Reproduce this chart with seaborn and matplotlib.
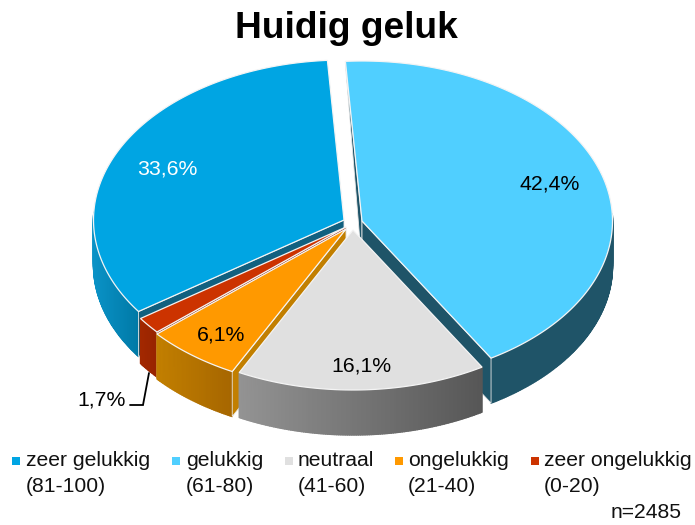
import numpy as np
import matplotlib
matplotlib.use("Agg")
import matplotlib.pyplot as plt
from matplotlib.patches import Polygon
from matplotlib.collections import PolyCollection
from matplotlib.colors import to_rgb
import pandas as pd
import seaborn as sns

# ---- data ----
categories = ["zeer gelukkig", "gelukkig", "neutraal", "ongelukkig", "zeer ongelukkig"]
ranges = ["(81-100)", "(61-80)", "(41-60)", "(21-40)", "(0-20)"]
values = [33.6, 42.4, 16.1, 6.1, 1.7]
value_labels = ["33,6%", "42,4%", "16,1%", "6,1%", "1,7%"]
title = "Huidig geluk"
note = "n=2485"

# ---- style ----
top_colors = ["#00A5E3", "#50CFFF", "#E0E0E0", "#FF9900", "#CC3300"]
side_from = ["#0A92C6", "#1F5468", "#939393", "#C27F00", "#A32800"]
side_to = ["#0079A6", "#1F5468", "#565656", "#A66600", "#962300"]
cut_colors = ["#12607F", "#1F5468", "#6E6E6E", "#C27F00", "#962300"]
centers = [(344, 220), (362, 221), (353, 230), (346, 229), (346, 227)]
label_pos = [(167, 169), (550, 184), (361, 366), (221, 335), (102, 400)]
label_cols = ["white", "black", "black", "black", "black"]
legend_marker_x = [16, 176, 289, 399, 535]
legend_text_x = [26, 186, 298, 408, 544]
RX, RY, DEPTH, START = 250.5, 160.0, 45.0, -3.8

sns.set_theme(style="white", rc={"font.family": ["Liberation Sans", "DejaVu Sans"]})
palette = sns.color_palette(top_colors)

fig = plt.figure(figsize=(6.95, 5.25), dpi=100)
ax = fig.add_axes([0, 0, 1, 1])
ax.set_xlim(0, 695)
ax.set_ylim(525, 0)
ax.axis("off")


def depth(theta):
    c = np.cos(np.radians(theta))
    return DEPTH - (DEPTH - 3) * np.clip(c, 0, 1)


def rim(cx, cy, theta):
    t = np.radians(theta)
    return np.column_stack([cx + RX * np.sin(t), cy - RY * np.cos(t)])


def draw_slice(i, a0, a1, z):
    cx, cy = centers[i]
    ts = np.linspace(a0, a1, max(int(a1 - a0) * 2, 12))
    top = rim(cx, cy, ts)
    # rim side, split in strips to follow the shading from left to right
    lo, hi = np.array(to_rgb(side_from[i])), np.array(to_rgb(side_to[i]))
    front = [t for t in ts if np.cos(np.radians(t)) <= 0.05]
    if len(front) > 1:
        fr = np.array(front)
        p = rim(cx, cy, fr)
        d = depth(fr)
        xm, xM = p[:, 0].min(), p[:, 0].max()
        polys, cols = [], []
        for k in range(len(fr) - 1):
            polys.append([p[k], p[k + 1], p[k + 1] + [0, d[k + 1]], p[k] + [0, d[k]]])
            f = ((p[k, 0] + p[k + 1, 0]) / 2 - xm) / max(xM - xm, 1)
            cols.append(lo + (hi - lo) * f)
        ax.add_collection(PolyCollection(polys, facecolors=cols, edgecolors=cols, linewidths=1.0, zorder=z))
    # radial cut faces: only those turned towards the viewer
    apex = np.array([cx, cy])
    for a, facing in ((a0, -np.sin(np.radians(a0))), (a1, np.sin(np.radians(a1)))):
        if facing <= 0:
            continue
        e = rim(cx, cy, a)[0]
        face = [apex, e, e + [0, depth(a)], apex + [0, DEPTH]]
        ax.add_patch(Polygon(face, closed=True, fc=cut_colors[i], ec="#E8E8E8", lw=0.6, zorder=z + 0.1))
    # top surface
    outline = np.vstack([[apex], top])
    ax.add_patch(Polygon(outline, closed=True, fc=palette[i], ec="#F4F4F4", lw=0.9, zorder=z + 0.2, joinstyle="miter"))


shares = np.array(values) / np.sum(values)
edges = START + np.concatenate([[0], np.cumsum(np.roll(shares, -1))]) * 360
# clockwise from the top: gelukkig, neutraal, ongelukkig, zeer ongelukkig, zeer gelukkig
order = [1, 2, 3, 4, 0]
spans = {idx: (edges[k], edges[k + 1]) for k, idx in enumerate(order)}
for z, idx in enumerate([0, 1, 4, 3, 2]):
    draw_slice(idx, spans[idx][0], spans[idx][1], 2 + z)

for (x, y), lab, col in zip(label_pos, value_labels, label_cols):
    ax.text(x, y, lab, color=col, ha="center", va="center", fontsize=15.3, zorder=20)

# leader line of the smallest slice
ax.plot([149, 143, 130], [373, 405, 405], color="black", lw=1.3, zorder=20, solid_joinstyle="miter")

ax.text(346.5, 29, title, ha="center", va="center", fontsize=26.7, fontweight="bold", color="black", zorder=20)

legend_df = pd.DataFrame({"x": legend_marker_x, "y": [461] * 5, "cat": categories})
sns.scatterplot(data=legend_df, x="x", y="y", hue="cat", palette=palette, marker="s", s=34,
                linewidth=0, legend=False, ax=ax, zorder=20)
ax.set_xlim(0, 695)
ax.set_ylim(525, 0)
for x, c, r in zip(legend_text_x, categories, ranges):
    ax.text(x, 461, c, ha="left", va="center", fontsize=15.2, color="#111111")
    ax.text(x, 486, r, ha="left", va="center", fontsize=15.2, color="#111111")
ax.text(682, 513, note, ha="right", va="center", fontsize=15.2, color="#111111")

fig.savefig("out.png", dpi=100, facecolor="white")
